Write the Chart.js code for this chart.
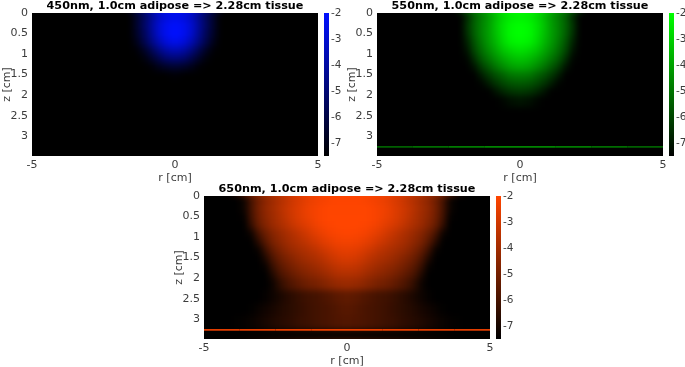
<!DOCTYPE html>
<html><head><meta charset="utf-8">
<style>html,body{margin:0;padding:0;background:#fff;width:685px;height:367px;overflow:hidden}canvas{position:absolute}</style>
<script src="https://cdn.jsdelivr.net/npm/chart.js@4/dist/chart.umd.min.js"></script>
</head><body>
<script>
const rTicks=[-5,0,5];
const zTicks=[0,0.5,1,1.5,2,2.5,3];
const cTicks=[-2,-3,-4,-5,-6,-7];
const rCells=[0.125,0.375,0.625,0.875,1.125,1.375,1.625,1.875,2.125,2.375,2.625,2.875,3.125,3.375,3.625,3.875,4.125,4.375,4.625,4.875];
const zEdges=[0,0.2,0.4,0.6,0.8,1,1.2,1.4,1.6,1.8,2,2.28,2.6,2.9,3.26,3.48];
const lineR=[-5,-3.75,-2.5,-1.25,0,1.25,2.5,3.75,5];
const lineZ=3.26;
const blueTitle="450nm, 1.0cm adipose => 2.28cm tissue";
const greenTitle="550nm, 1.0cm adipose => 2.28cm tissue";
const orangeTitle="650nm, 1.0cm adipose => 2.28cm tissue";
// log10 fluence by row (z) over r>=0; cells not listed are at the bottom of the colour range
const blueRows=[
[-2.5,-2.8,-3.4,-4.5,-5.6,-6.6],
[-2.1,-2.4,-3.1,-4.3,-5.5,-6.6],
[-2.05,-2.4,-3.2,-4.5,-5.7,-6.7],
[-2.5,-2.9,-3.8,-4.9,-6.0,-7.0],
[-3.7,-4.1,-4.9,-5.9,-6.8,-7.4],
[-5.0,-5.3,-6.0,-6.7,-7.3],
[-6.5,-6.7,-7.0,-7.4],
[-7.4],
[],[],[],[],[],[],[]];
const greenRows=[
[-2.3,-2.45,-2.85,-3.45,-4.2,-4.8,-5.5,-6.6],
[-2.05,-2.2,-2.65,-3.3,-4.1,-4.7,-5.4,-6.4],
[-2.0,-2.15,-2.7,-3.35,-4.1,-4.7,-5.5,-6.5],
[-2.2,-2.35,-2.85,-3.55,-4.2,-4.9,-5.7,-6.8],
[-2.7,-2.9,-3.3,-3.9,-4.5,-5.2,-6.0,-7.1],
[-3.3,-3.5,-3.9,-4.4,-5.0,-5.6,-6.5,-7.4],
[-3.9,-4.1,-4.5,-5.0,-5.6,-6.2,-7.1],
[-4.9,-5.0,-5.4,-5.8,-6.3,-6.9],
[-5.6,-5.7,-6.0,-6.4,-6.9,-7.4],
[-6.3,-6.4,-6.7,-7.1],
[-7.1,-7.2,-7.4],
[],[],[],[]];
const orangeRows=[
[-2.05,-2.05,-2.1,-2.2,-2.35,-2.5,-2.75,-3.0,-3.35,-3.7,-4.1,-4.5,-5.1,-6.0,-7.2],
[-2.0,-2.0,-2.0,-2.05,-2.2,-2.35,-2.6,-2.9,-3.2,-3.6,-4.0,-4.4,-5.0,-6.0,-7.2],
[-2.0,-2.0,-2.0,-2.05,-2.2,-2.4,-2.65,-2.95,-3.3,-3.7,-4.1,-4.5,-5.1,-6.1,-7.4],
[-2.0,-2.0,-2.05,-2.15,-2.35,-2.6,-2.85,-3.15,-3.5,-3.85,-4.2,-4.7,-5.3,-6.4],
[-2.05,-2.1,-2.2,-2.4,-2.65,-2.95,-3.25,-3.6,-3.9,-4.25,-4.65,-5.2,-6.0,-7.2],
[-2.25,-2.3,-2.5,-2.7,-3.0,-3.25,-3.55,-3.8,-4.1,-4.45,-4.9,-5.6,-6.6],
[-2.55,-2.6,-2.85,-3.1,-3.4,-3.65,-3.85,-4.1,-4.4,-4.8,-5.35,-6.2,-7.3],
[-2.85,-2.95,-3.2,-3.5,-3.75,-3.95,-4.15,-4.45,-4.8,-5.2,-5.85,-6.8],
[-3.25,-3.35,-3.6,-3.85,-4.1,-4.3,-4.5,-4.8,-5.15,-5.6,-6.3,-7.3],
[-3.7,-3.75,-4.0,-4.25,-4.45,-4.65,-4.9,-5.2,-5.55,-6.0,-6.8],
[-4.2,-4.3,-4.5,-4.75,-4.95,-5.1,-5.35,-5.65,-6.0,-6.5,-7.2],
[-5.45,-5.55,-5.75,-5.9,-6.05,-6.15,-6.3,-6.5,-6.7,-6.95,-7.2,-7.4],
[-5.65,-5.75,-5.9,-6.0,-6.1,-6.2,-6.35,-6.5,-6.65,-6.8,-7.0,-7.15,-7.3,-7.45],
[-5.75,-5.8,-5.9,-6.0,-6.1,-6.2,-6.3,-6.45,-6.6,-6.7,-6.85,-7.0,-7.15,-7.3,-7.4,-7.45],
[]];
const blueLine=[-7.5,-7.5,-7.5,-7.5,-7.5,-7.5,-7.5,-7.5,-7.5];
const greenLine=[-5.6,-5.3,-5.0,-4.7,-4.6,-4.7,-5.0,-5.3,-5.6];
const orangeLine=[-2.7,-2.6,-2.5,-2.4,-2.4,-2.4,-2.5,-2.6,-2.7];
const blueBase=[0,16,255], greenBase=[0,255,0], orangeBase=[255,69,0];
const cMin=-7.5,cMax=-2;

const FONT='"DejaVu Sans"';
const TICK='#3c3c3c';
function col(base,v){const t=Math.max(0,Math.min(1,(v-cMin)/(cMax-cMin)));
  return `rgb(${Math.round(base[0]*t)},${Math.round(base[1]*t)},${Math.round(base[2]*t)})`;}

const smooth={id:'smooth',
  beforeDatasetsDraw(c){const a=c.chartArea,x=c.ctx;x.save();x.fillStyle='#000';x.fillRect(a.left,a.top,a.width,a.height);x.restore();},
  beforeDatasetDraw(c,args){ if(args.index!==0)return;
    const a=c.chartArea,p=16,W=Math.round(a.width),H=Math.round(a.height),L=Math.round(a.left),T=Math.round(a.top);
    const o=document.createElement('canvas');o.width=W+2*p;o.height=H+2*p;const g=o.getContext('2d');
    g.drawImage(c.canvas,L,T,W,H,0,0,W+2*p,H+2*p);
    g.drawImage(c.canvas,L,T,W,H,p,p,W,H);
    const x=c.ctx;x.save();x.beginPath();x.rect(L,T,W,H);x.clip();
    x.filter='blur(3px)';x.drawImage(o,L-p,T-p);x.filter='none';x.restore();
  }};

function panel(left,top,title,rows,line,base){
  const cv=document.createElement('canvas');cv.width=322;cv.height=184;
  cv.style.left=left+'px';cv.style.top=top+'px';cv.style.width='322px';cv.style.height='184px';document.body.appendChild(cv);
  const datasets=[{type:'line',data:lineR.map((r,i)=>({x:r,y:lineZ})),borderWidth:1.8,pointRadius:0,
    borderColor:col(base,line[4]),segment:{borderColor:s=>col(base,(line[s.p0DataIndex]+line[s.p1DataIndex])/2)}}];
  rows.forEach((row,j)=>{
    const pts=[],cols=[];
    rCells.forEach((r,i)=>{const v=i<row.length?row[i]:cMin;
      pts.push({x:-r,y:[zEdges[j],zEdges[j+1]]});cols.push(col(base,v));
      pts.push({x:r,y:[zEdges[j],zEdges[j+1]]});cols.push(col(base,v));});
    datasets.push({type:'bar',data:pts,backgroundColor:cols,borderWidth:0,grouped:false,barThickness:8});
  });
  new Chart(cv,{data:{datasets},plugins:[smooth],options:{
    responsive:false,animation:false,devicePixelRatio:1,
    layout:{padding:{right:4,left:0,top:0,bottom:0}},
    plugins:{legend:{display:false},tooltip:{enabled:false},
      title:{display:true,text:title,color:'#000',fullSize:false,font:{family:FONT,size:11.2,weight:'bold',lineHeight:'12px'},padding:{top:0,bottom:1}}},
    scales:{
      x:{type:'linear',min:-5,max:5,offset:false,grid:{display:false,drawTicks:false},border:{display:false},
        afterBuildTicks:s=>{s.ticks=rTicks.map(v=>({value:v}));},
        afterFit:s=>{s.height=28;s.paddingLeft=0;s.paddingRight=0;},
        ticks:{color:TICK,font:{family:FONT,size:11},padding:3,maxRotation:0,autoSkip:false,callback:v=>String(v)},
        title:{display:true,text:'r [cm]',color:TICK,font:{family:FONT,size:11,lineHeight:'12px'},padding:0}},
      y:{type:'linear',min:0,max:3.48,reverse:true,grid:{display:false,drawTicks:false},border:{display:false},
        afterBuildTicks:s=>{s.ticks=zTicks.map(v=>({value:v}));},
        afterFit:s=>{s.width=32;s.paddingTop=0;s.paddingBottom=0;},
        ticks:{color:TICK,font:{family:FONT,size:11},padding:4,autoSkip:false,callback:v=>String(v)},
        title:{display:true,text:'z [cm]',color:TICK,font:{family:FONT,size:11,lineHeight:'12px'},padding:{top:1,bottom:0}}}
    }}});
}
function colorbar(left,top,base){
  const cv=document.createElement('canvas');cv.width=24;cv.height=184;
  cv.style.left=left+'px';cv.style.top=top+'px';cv.style.width='24px';cv.style.height='184px';document.body.appendChild(cv);
  new Chart(cv,{type:'bar',data:{labels:[''],datasets:[{data:[[cMin,cMax]],borderWidth:0,barPercentage:1,categoryPercentage:1,
      backgroundColor:c=>{const a=c.chart.chartArea;if(!a)return '#000';
        const g=c.chart.ctx.createLinearGradient(0,a.bottom,0,a.top);g.addColorStop(0,col(base,cMin));g.addColorStop(1,col(base,cMax));return g;}}]},
    options:{responsive:false,animation:false,devicePixelRatio:1,
      layout:{padding:{top:13,bottom:28}},
      plugins:{legend:{display:false},tooltip:{enabled:false},title:{display:false}},
      scales:{x:{display:false},
        y:{position:'right',min:cMin,max:cMax,grid:{display:false,drawTicks:false},border:{display:false},
          afterBuildTicks:s=>{s.ticks=cTicks.map(v=>({value:v}));},
          afterFit:s=>{s.width=19;s.paddingTop=0;s.paddingBottom=0;},
          ticks:{color:TICK,font:{family:FONT,size:10.5},padding:2,autoSkip:false,callback:v=>String(v)}}}}});
}
panel(0,0,blueTitle,blueRows,blueLine,blueBase);
panel(345,0,greenTitle,greenRows,greenLine,greenBase);
panel(172,183,orangeTitle,orangeRows,orangeLine,orangeBase);
colorbar(324,0,blueBase);
colorbar(669,0,greenBase);
colorbar(496,183,orangeBase);
</script>
</body></html>
